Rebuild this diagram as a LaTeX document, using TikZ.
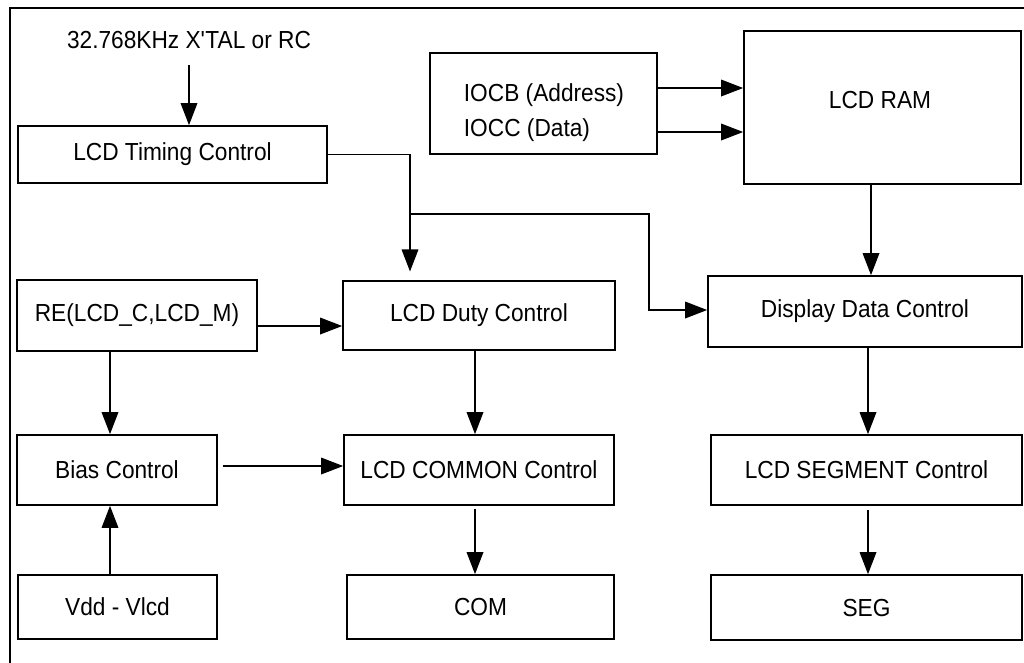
\documentclass[tikz,border=0pt]{standalone}
\usepackage{fontspec}
\setmainfont{Liberation Sans}[FakeStretch=0.92]
\usetikzlibrary{arrows.meta}
\begin{document}
\begin{tikzpicture}[x=0.75pt,y=-0.75pt,
  box/.style={draw,line width=1.3pt,inner sep=0pt,align=center},
  lbl/.style={inner sep=0pt,align=left},
  arr/.style={line width=0.9pt,-{Triangle[length=16.5pt,width=12.5pt]}},
  every node/.append style={font=\fontsize{18.5pt}{26pt}\selectfont}]
\useasboundingbox (0,0) rectangle (1024,662);
\draw[line width=2pt] (1030,8) -- (10,8) -- (10,670);
% boxes
\node[box,minimum width=231.75pt,minimum height=42.75pt] (timing) at (172.5,154.5) {LCD Timing Control};
\node[box,minimum width=170.25pt,minimum height=75.75pt] (iocb) at (543.5,103.5) {};
\node[lbl] (iocbtxt) at (544,112.5) {IOCB (Address)\\IOCC (Data)};
\node[box,minimum width=207.75pt,minimum height=114.75pt] (ram) at (882.5,107.5) {};
\node[lbl] (ramtxt) at (880,100) {LCD RAM};
\node[box,minimum width=180pt,minimum height=53.25pt] (re) at (137,315.5) {RE(LCD\_C,LCD\_M)};
\node[box,minimum width=204pt,minimum height=51.75pt] (duty) at (479,315.5) {LCD Duty Control};
\node[box,minimum width=235.5pt,minimum height=53.25pt] (disp) at (865,311.5) {Display Data Control};
\node[box,minimum width=150pt,minimum height=52.5pt] (bias) at (117,470) {Bias Control};
\node[box,minimum width=202.5pt,minimum height=52.5pt] (common) at (479,470) {LCD COMMON Control};
\node[box,minimum width=233.25pt,minimum height=52.5pt] (segctl) at (866.5,470) {LCD SEGMENT Control};
\node[box,minimum width=149.25pt,minimum height=48pt] (vdd) at (117.5,607) {Vdd - Vlcd};
\node[box,minimum width=200.25pt,minimum height=48pt] (com) at (480.5,607) {COM};
\node[box,minimum width=233.25pt,minimum height=48.75pt] (seg) at (866.5,607.5) {SEG};
\node[lbl] (src) at (189,40) {32.768KHz X\textquotesingle TAL or RC};
% connectors
\draw[arr] (src) ++(0,25) -- (src |- timing.north);
\draw[arr] (iocb.east |- 0,88) -- (ram.west |- 0,88);
\draw[arr] (iocb.east |- 0,132) -- (ram.west |- 0,132);
\draw[arr,shorten >=6.5pt] (timing.east) -- (410,154.5) -- (410,0 |- duty.north);
\coordinate (br) at (410,214);
\draw[arr] (br) -- (649,214) -- (649,310) -- (disp.west |- 0,310);
\draw[arr] (ram.south -| 871,0) -- (disp.north -| 871,0);
\draw[arr] (disp.south -| 868,0) -- (segctl.north -| 868,0);
\draw[arr,shorten <=3pt] (segctl.south -| 868,0) -- (seg.north -| 868,0);
\draw[arr] (re.east |- 0,326) -- (duty.west |- 0,326);
\draw[arr] (re.south -| 110,0) -- (bias.north -| 110,0);
\draw[arr] (duty.south -| 475,0) -- (common.north -| 475,0);
\draw[arr,shorten <=3.5pt] (bias.east |- 0,466) -- (common.west |- 0,466);
\draw[arr,shorten <=2.5pt] (common.south -| 475,0) -- (com.north -| 475,0);
\draw[arr] (vdd.north -| 110,0) -- (bias.south -| 110,0);
\end{tikzpicture}
\end{document}
